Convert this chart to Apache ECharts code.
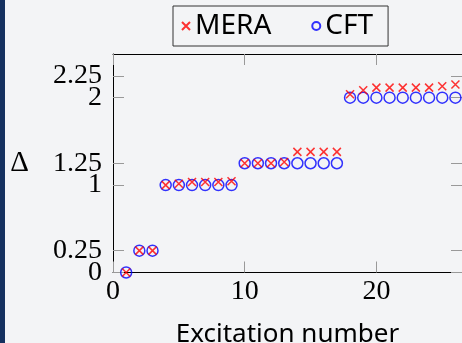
<!DOCTYPE html>
<html>
<head>
<meta charset="utf-8">
<script src="https://cdn.jsdelivr.net/npm/echarts@6/dist/echarts.min.js"></script>
<style>
html,body{margin:0;padding:0;background:#f3f4f6;}
#main{width:462px;height:343px;}
</style>
</head>
<body>
<div id="main"></div>
<script>
var excitation = [1,2,3,4,5,6,7,8,9,10,11,12,13,14,15,16,17,18,19,20,21,22,23,24,25,26];
var meraValues = [0,0.25,0.25,1.0,1.015,1.035,1.035,1.035,1.045,1.25,1.25,1.25,1.265,1.38,1.38,1.38,1.38,2.04,2.085,2.115,2.115,2.115,2.115,2.115,2.13,2.15];
var cftValues = [0,0.25,0.25,1,1,1,1,1,1,1.25,1.25,1.25,1.25,1.25,1.25,1.25,1.25,2,2,2,2,2,2,2,2,2];
var xTicks = [0,10,20];
var yTicks = [0,0.25,1,1.25,2,2.25];
// labels split over two axes so that close ones don't hide each other
var yLabelsA = [0,1,2];
var yLabelsB = [0.25,1.25,2.25];

function pairs(ys){
  return excitation.map(function(x,i){ return [x, ys[i]]; });
}

var serif = '"Liberation Serif", "DejaVu Serif", serif';
var sans = '"Noto Sans", "DejaVu Sans", sans-serif';
var crossPath = 'path://M0,0L10,10M10,0L0,10';

var tickStyle = {show:true, inside:true, length:11, lineStyle:{color:'#999', width:1}};
var lineStyle = {show:true, onZero:false, lineStyle:{color:'#000', width:1}};
var yLabelStyle = {margin:11, fontFamily:serif, fontSize:28, color:'#000', hideOverlap:false};

var option = {
  backgroundColor:'#f3f4f6',
  animation:false,
  graphic:[{
    type:'rect', left:0, top:0, shape:{width:5, height:343}, style:{fill:'#14305f'}
  }],
  grid:{left:113, top:54, right:0, bottom:70.5, outerBoundsMode:'none', containLabel:false},
  legend:{
    left:173, top:6,
    padding:[6,15,6,8],
    borderColor:'#333', borderWidth:1,
    itemWidth:8, itemHeight:8, itemGap:40,
    textStyle:{fontFamily:sans, fontSize:28, color:'#000'},
    data:[
      {name:'MERA', icon:crossPath},
      {name:'CFT', icon:'circle'}
    ]
  },
  xAxis:[{
    type:'value', min:0, max:26.5, position:'bottom',
    axisLine:lineStyle,
    axisTick:Object.assign({customValues:xTicks}, tickStyle),
    splitLine:{show:false},
    axisLabel:{customValues:xTicks, hideOverlap:false, margin:5, fontFamily:serif, fontSize:28, color:'#000'},
    name:'Excitation number', nameLocation:'middle', nameGap:49,
    nameTextStyle:{fontFamily:sans, fontSize:26, color:'#000'}
  },{
    type:'value', min:0, max:26.5, position:'top',
    axisLine:lineStyle,
    axisTick:Object.assign({customValues:xTicks}, tickStyle),
    splitLine:{show:false},
    axisLabel:{show:false}
  }],
  yAxis:[{
    type:'value', min:0, max:2.5, position:'left',
    axisLine:lineStyle,
    axisTick:Object.assign({customValues:yTicks}, tickStyle),
    splitLine:{show:false},
    axisLabel:Object.assign({customValues:yLabelsA}, yLabelStyle),
    name:'Δ', nameLocation:'middle', nameRotate:0, nameGap:84,
    nameTextStyle:{fontFamily:serif, fontSize:29, color:'#000'}
  },{
    type:'value', min:0, max:2.5, position:'right',
    axisLine:lineStyle,
    axisTick:Object.assign({customValues:yTicks}, tickStyle),
    splitLine:{show:false},
    axisLabel:{show:false}
  },{
    type:'value', min:0, max:2.5, position:'left', offset:0,
    axisLine:{show:false}, axisTick:{show:false}, splitLine:{show:false},
    axisLabel:Object.assign({customValues:yLabelsB}, yLabelStyle)
  }],
  series:[{
    name:'CFT', type:'scatter', symbol:'circle', symbolSize:11,
    itemStyle:{color:'rgba(0,0,0,0)', borderColor:'#0000ff', borderWidth:1.5},
    data:pairs(cftValues)
  },{
    name:'MERA', type:'scatter', symbol:crossPath, symbolSize:8,
    itemStyle:{color:'rgba(0,0,0,0)', borderColor:'#ff0000', borderWidth:1.5},
    data:pairs(meraValues)
  }]
};

var chart = echarts.init(document.getElementById('main'));
chart.setOption(option);
</script>
</body>
</html>
